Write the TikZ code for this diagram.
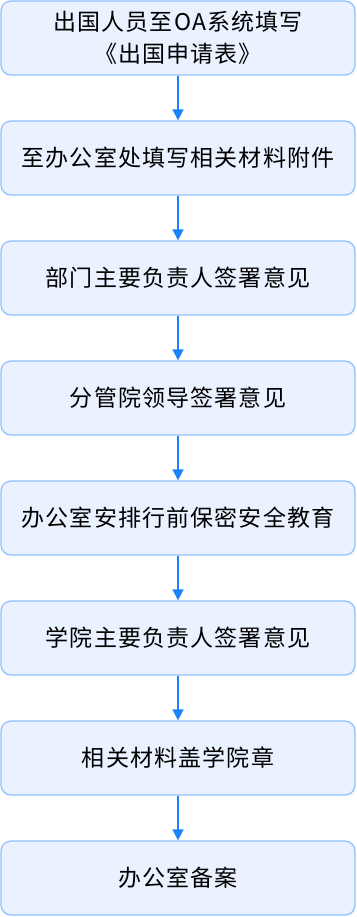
\documentclass[tikz,border=0pt]{standalone}
\usepackage{fontspec}
\setmainfont{Noto Sans CJK SC}[LetterSpace=5]
\usetikzlibrary{arrows.meta}
\definecolor{boxfill}{HTML}{EAF2FF}
\definecolor{boxdraw}{HTML}{94C0FF}
\definecolor{arr}{HTML}{1C83FF}
\begin{document}
\begin{tikzpicture}[x=1pt,y=-1pt,
  stepbox/.style={draw=boxdraw,fill=boxfill,line width=1.3pt,rounded corners=10pt,
    minimum width=354pt,minimum height=74pt,inner sep=0pt,align=center,
    font=\fontsize{23pt}{32pt}\selectfont,text=black},
  flow/.style={draw=arr,line width=1.3pt,-{Triangle[length=11pt,width=11pt]}}]
\useasboundingbox (0,0) rectangle (356,917);
\node[stepbox] (b1) at (178,38) {出国人员至OA系统填写\\《出国申请表》};
\node[stepbox] (b2) at (178,158) {至办公室处填写相关材料附件};
\node[stepbox] (b3) at (178,278) {部门主要负责人签署意见};
\node[stepbox] (b4) at (178,398) {分管院领导签署意见};
\node[stepbox] (b5) at (178,518) {办公室安排行前保密安全教育};
\node[stepbox] (b6) at (178,638) {学院主要负责人签署意见};
\node[stepbox] (b7) at (178,758) {相关材料盖学院章};
\node[stepbox] (b8) at (178,878) {办公室备案};
\foreach \a/\b in {b1/b2,b2/b3,b3/b4,b4/b5,b5/b6,b6/b7,b7/b8}
  \draw[flow] (\a.south) -- (\b.north);
\end{tikzpicture}
\end{document}
